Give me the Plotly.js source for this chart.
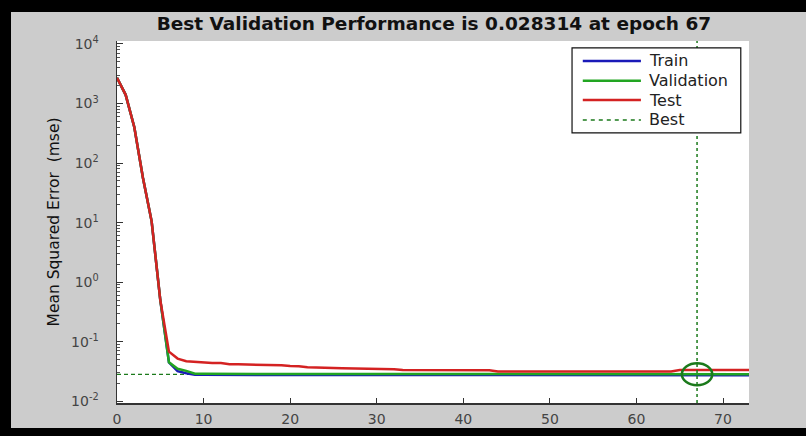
<!DOCTYPE html>
<html>
<head>
<meta charset="utf-8">
<script src="https://cdn.plot.ly/plotly-3.0.1.min.js"></script>
<style>
  html, body { margin: 0; padding: 0; background: #000; width: 806px; height: 436px; overflow: hidden; }
  #chart { position: absolute; left: 11px; top: 12px; width: 795px; height: 416px; }
</style>
</head>
<body>
<div id="chart"></div>
<script>
// ---- data ----
const epochs = [0,1,2,3,4,5,6,7,8,9,10,11,12,13,14,15,16,17,18,19,20,21,22,23,24,25,26,27,28,29,30,31,32,33,34,35,36,37,38,39,40,41,42,43,44,45,46,47,48,49,50,51,52,53,54,55,56,57,58,59,60,61,62,63,64,65,66,67,68,69,70,71,72,73];

const trainPerf = [2700,1400,400,56,10.5,0.5,0.045,0.032,0.0295,0.0279,0.0277,0.0277,0.0276,0.0276,0.0276,0.0276,0.0276,0.0275,0.0275,0.0275,0.0275,0.0275,0.0275,0.0275,0.0275,0.0275,0.0275,0.0275,0.0275,0.0275,0.0275,0.0275,0.0275,0.0275,0.0275,0.0275,0.0275,0.0274,0.0274,0.0274,0.0274,0.0274,0.0274,0.0274,0.0274,0.0274,0.0274,0.0274,0.0274,0.0274,0.0274,0.0274,0.0274,0.0274,0.0274,0.0274,0.0274,0.0274,0.0274,0.0274,0.0274,0.0274,0.0274,0.0274,0.0274,0.0274,0.0274,0.0274,0.0274,0.0274,0.0274,0.0274,0.0274,0.0274];

const valPerf = [2700,1400,400,56,10.5,0.5,0.045,0.035,0.0323,0.0289,0.0288,0.0288,0.0288,0.0287,0.0287,0.0287,0.0287,0.0287,0.0286,0.0286,0.0286,0.0286,0.0286,0.0286,0.0286,0.0286,0.0285,0.0285,0.0285,0.0285,0.0285,0.0285,0.0285,0.0285,0.0285,0.0285,0.0285,0.0284,0.0284,0.0284,0.0284,0.0284,0.0284,0.0284,0.0284,0.0284,0.0284,0.0284,0.0284,0.0284,0.02836,0.02836,0.02836,0.02835,0.02835,0.02835,0.02835,0.02834,0.02834,0.02834,0.02833,0.02833,0.02833,0.02833,0.02832,0.02832,0.02832,0.028314,0.02832,0.02833,0.02833,0.02834,0.02834,0.02835];

const testPerf = [2700,1400,400,56,10.5,0.5,0.068,0.052,0.047,0.0457,0.0455,0.044,0.0438,0.0418,0.0417,0.0415,0.0403,0.0402,0.0401,0.04,0.039,0.0388,0.0373,0.0372,0.0371,0.036,0.0358,0.0357,0.0348,0.0347,0.0346,0.0346,0.0345,0.0333,0.0332,0.0332,0.0332,0.0331,0.0331,0.0331,0.0331,0.0331,0.0331,0.0331,0.0316,0.0316,0.0316,0.0316,0.0316,0.0316,0.0316,0.0316,0.0316,0.0316,0.0316,0.0316,0.0316,0.0316,0.0316,0.0316,0.0316,0.0316,0.0316,0.0316,0.0316,0.0335,0.0335,0.0335,0.0335,0.0335,0.0335,0.0335,0.0335,0.0335];

const bestEpoch = 67;
const bestPerf = 0.028314;

const seriesNames = ['Train', 'Validation', 'Test', 'Best'];
const xTickVals = [0,10,20,30,40,50,60,70];
const yTickVals = [0.01,0.1,1,10,100,1000,10000];
const yTickText = ['10<sup>-2</sup>','10<sup>-1</sup>','10<sup>0</sup>','10<sup>1</sup>','10<sup>2</sup>','10<sup>3</sup>','10<sup>4</sup>'];

const xRange = [0, 73];
const yRangeLog = [-2.03, 4.05];

// ---- styles ----
const FONT = 'DejaVu Sans, Verdana, sans-serif';
const COLORS = ['#1a1ab8', '#22a522', '#d42222'];
const BEST_COLOR = '#1b7a1b';
const HALF_W = 1.75;   // ellipse half width in epochs (~15 px)
const HALF_H = 0.185;  // ellipse half height in decades (~11 px)

const traces = [
  { x: xRange, y: [bestPerf, bestPerf], name: 'best-h', mode: 'lines', showlegend: false,
    line: { color: BEST_COLOR, width: 1.2, dash: '4px,3px' } },
  { x: epochs, y: trainPerf, name: seriesNames[0], mode: 'lines', showlegend: false, line: { color: COLORS[0], width: 2.5 } },
  { x: epochs, y: valPerf, name: seriesNames[1], mode: 'lines', showlegend: false, line: { color: COLORS[1], width: 2.5 } },
  { x: epochs, y: testPerf, name: seriesNames[2], mode: 'lines', showlegend: false, line: { color: COLORS[2], width: 2.5 } },
  { x: [bestEpoch, bestEpoch], y: [Math.pow(10, yRangeLog[0]), Math.pow(10, yRangeLog[1])], name: seriesNames[3],
    mode: 'lines', showlegend: false, line: { color: BEST_COLOR, width: 1.5, dash: '3px,3px' } }
];

// ---- legend box drawn in paper coordinates (MATLAB-style long line samples) ----
const legBox = { x0: 0.720, x1: 0.987, y0: 0.746, y1: 0.981 };
const legRows = [0.945, 0.890, 0.837, 0.782];
const legLineX = [0.737, 0.829];
const legTextX = 0.838;
const legendStyles = [
  { color: COLORS[0], width: 2.5, dash: 'solid' },
  { color: COLORS[1], width: 2.5, dash: 'solid' },
  { color: COLORS[2], width: 2.5, dash: 'solid' },
  { color: BEST_COLOR, width: 1.5, dash: '4px,4px' }
];

const shapes = [
  { type: 'rect', xref: 'paper', yref: 'paper', x0: legBox.x0, x1: legBox.x1, y0: legBox.y0, y1: legBox.y1,
    fillcolor: '#ffffff', line: { color: '#111111', width: 1.2 }, layer: 'above' },
  // best-point ellipse, centred on the best epoch / performance
  { type: 'circle', xref: 'x', yref: 'y', x0: bestEpoch - HALF_W, x1: bestEpoch + HALF_W,
    y0: bestPerf / Math.pow(10, HALF_H), y1: bestPerf * Math.pow(10, HALF_H),
    line: { color: BEST_COLOR, width: 2.5 }, layer: 'above' }
];
const annotations = [];
seriesNames.forEach((nm, i) => {
  shapes.push({ type: 'line', xref: 'paper', yref: 'paper', x0: legLineX[0], x1: legLineX[1],
    y0: legRows[i], y1: legRows[i], line: legendStyles[i], layer: 'above' });
  annotations.push({ xref: 'paper', yref: 'paper', x: legTextX, y: legRows[i], xanchor: 'left', yanchor: 'middle',
    text: nm, showarrow: false, font: { family: FONT, size: 16, color: '#222222' } });
});

const layout = {
  width: 795, height: 416,
  paper_bgcolor: '#cccccc', plot_bgcolor: '#ffffff',
  margin: { l: 106, r: 57, t: 29, b: 25 },
  font: { family: FONT, color: '#333333', size: 14 },
  title: { text: 'Best Validation Performance is 0.028314 at epoch 67',
           font: { family: FONT, size: 18.5, color: '#111111', weight: 'bold' },
           x: 0.532, xanchor: 'center', y: 0.972, yanchor: 'middle' },
  xaxis: { range: xRange, tickmode: 'array', tickvals: xTickVals, ticks: 'inside', ticklen: 5,
           tickcolor: '#333', showline: true, linecolor: '#333', linewidth: 1.5, mirror: false,
           showgrid: false, zeroline: false, ticklabelstandoff: 3,
           tickfont: { family: FONT, size: 14, color: '#444' } },
  yaxis: { type: 'log', range: yRangeLog, tickmode: 'array', tickvals: yTickVals, ticktext: yTickText,
           ticks: 'inside', ticklen: 6, tickcolor: '#333', showline: true, linecolor: '#333', linewidth: 1.5,
           showgrid: false, zeroline: false, ticklabelstandoff: 14,
           tickfont: { family: FONT, size: 14, color: '#444' },
           minor: { ticks: 'inside', ticklen: 3, tickcolor: '#555', dtick: 'D1', showgrid: false },
           title: { text: 'Mean Squared Error  (mse)', font: { family: FONT, size: 15.5, color: '#111' }, standoff: 7 } },
  showlegend: false,
  shapes: shapes,
  annotations: annotations
};

Plotly.newPlot('chart', traces, layout, { displayModeBar: false, staticPlot: true });
</script>
</body>
</html>
